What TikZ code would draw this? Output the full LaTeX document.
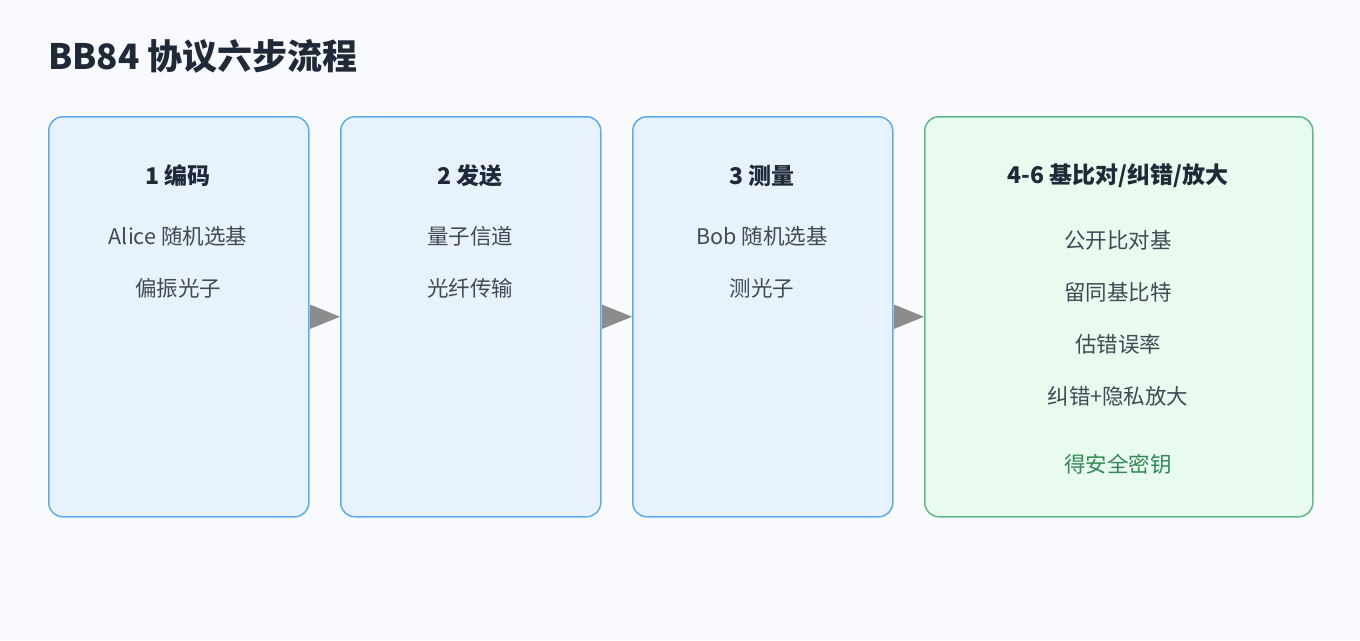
\documentclass[tikz,border=0pt]{standalone}
\usepackage{fontspec}
\setmainfont{Noto Sans CJK SC}
\usetikzlibrary{positioning,arrows.meta}
\definecolor{bg}{HTML}{F8FAFE}
\definecolor{bluefill}{HTML}{E8F2FF}
\definecolor{blueline}{HTML}{5AAEF0}
\definecolor{greenfill}{HTML}{E9FAEF}
\definecolor{greenline}{HTML}{5DBB8A}
\definecolor{ink}{HTML}{1F2937}
\definecolor{okgreen}{HTML}{2F8A55}
\tikzset{
	stage/.style={draw=blueline, fill=bluefill, line width=1.5pt, rounded corners=14pt, minimum width=260pt, minimum height=400pt, inner sep=0pt},
	final/.style={stage, draw=greenline, fill=greenfill, minimum width=388pt},
	head/.style={text=ink, font=\fontsize{23}{27}\selectfont\bfseries},
	txt/.style={text=ink!85, font=\fontsize{21.5}{25}\selectfont},
	link/.style={draw=gray!90, line width=1.5pt, -{Triangle[length=30pt,width=24pt]}, fill=gray!90}
}
\begin{document}
\begin{tikzpicture}[x=1pt,y=-1pt]
	\fill[bg] (0,0) rectangle (1360,640);
	\useasboundingbox (0,0) rectangle (1360,640);
	\node[anchor=west, text=ink, font=\fontsize{35}{40}\selectfont\bfseries, inner sep=0pt] (title) at (48,56) {BB84 协议六步流程};

	\node[stage, anchor=north west] (enc) at (48,116) {};
	\node[stage, anchor=north west] (send) at (340,116) {};
	\node[stage, anchor=north west] (meas) at (632,116) {};
	\node[final, anchor=north west] (post) at (924,116) {};

	\node[head] (enchd) at (178,176) {1 编码};
	\node[txt] (enc1) at (178,236) {Alice 随机选基};
	\node[txt] (enc2) at (178,288) {偏振光子};

	\node[head] (sendhd) at (470,176) {2 发送};
	\node[txt] (send1) at (470,236) {量子信道};
	\node[txt] (send2) at (470,288) {光纤传输};

	\node[head] (meashd) at (762,176) {3 测量};
	\node[txt] (meas1) at (762,236) {Bob 随机选基};
	\node[txt] (meas2) at (762,288) {测光子};

	\node[head] (posthd) at (1118,176) {4-6 基比对/纠错/放大};
	\node[txt] (post1) at (1118,240) {公开比对基};
	\node[txt] (post2) at (1118,292) {留同基比特};
	\node[txt] (post3) at (1118,344) {估错误率};
	\node[txt] (post4) at (1118,396) {纠错+隐私放大};
	\node[txt, text=okgreen] (key) at (1118,464) {得安全密钥};

	\draw[link] (enc.east) -- (send.west);
	\draw[link] (send.east) -- (meas.west);
	\draw[link] (meas.east) -- (post.west);
\end{tikzpicture}
\end{document}
